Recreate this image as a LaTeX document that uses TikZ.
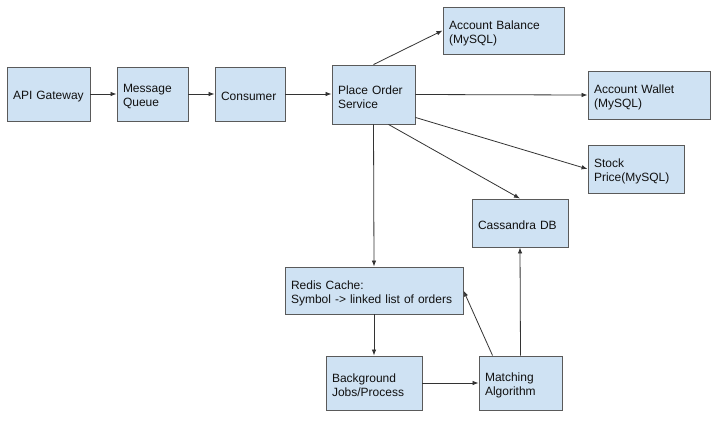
\documentclass[tikz,border=0pt]{standalone}
\usepackage{fontspec}
\setmainfont{Liberation Sans}
\usetikzlibrary{arrows.meta}
\definecolor{boxfill}{HTML}{CFE2F3}
\definecolor{boxline}{HTML}{5A5A5A}
\definecolor{arrowcol}{HTML}{333333}
\definecolor{txt}{HTML}{111111}
\tikzset{
  boxnode/.style={draw=boxline, line width=0.9pt, fill=boxfill, rectangle, inner sep=0pt},
  boxtext/.style={inner sep=0pt, align=left, text=txt, font=\fontsize{12}{14}\selectfont},
  conn/.style={draw=arrowcol, line width=0.8pt, -{Latex[length=6pt,width=4.5pt]}}
}
% \bx{name}{x1}{y1}{x2}{y2}{text}
\newcommand{\bx}[6]{%
  \pgfmathsetmacro{\bw}{#4-#2}%
  \pgfmathsetmacro{\bh}{#5-#3}%
  \pgfmathsetmacro{\tw}{#4-#2-12}%
  \node[boxnode, minimum width=\bw pt, minimum height=\bh pt] (#1) at ({(#2+#4)/2},{(#3+#5)/2}) {};%
  \node[boxtext, text width=\tw pt, yshift=-2.5pt] (#1-t) at (#1.center) {#6};%
}
\begin{document}
\begin{tikzpicture}[x=1pt,y=-1pt]
\fill[white] (0,0) rectangle (727,432);
\useasboundingbox (0,0) rectangle (727,432);
\bx{api}{7}{67}{90}{121}{API Gateway}
\bx{mq}{117}{67}{188}{121}{Message\\Queue}
\bx{con}{215}{67}{285}{121}{Consumer}
\bx{po}{332}{65}{415}{124}{Place Order\\Service}
\bx{ab}{443}{7}{564}{54}{Account Balance\\(MySQL)}
\bx{aw}{588}{71}{710}{119}{Account Wallet\\(MySQL)}
\bx{sp}{588}{145}{684}{193}{Stock\\Price(MySQL)}
\bx{cd}{472}{199}{568}{247}{Cassandra DB}
\bx{rc}{285}{267}{463}{314}{Redis Cache:\\Symbol -> linked list of orders}
\bx{bg}{326}{356}{422}{410}{Background\\Jobs/Process}
\bx{ma}{479}{356}{562}{410}{Matching\\Algorithm}

\draw[conn] (api.east) -- (mq.west);
\draw[conn] (mq.east) -- (con.west);
\draw[conn] (con.east) -- (po.west |- con.east);
\draw[conn] (po.north) -- (ab.west);
\draw[conn] (po.east) -- (aw.west);
\draw[conn] ([yshift=7pt]po.south east) -- (sp.west);
\draw[conn] ([xshift=15pt]po.south) -- (cd.north);
\draw[conn] (po.south) -- (rc.north);
\draw[conn] (rc.south) -- (bg.north);
\draw[conn] (bg.east) -- (ma.west);
\draw[conn] ([xshift=14pt]ma.north west) -- (rc.east);
\draw[conn] (ma.north) -- (cd.south);
\end{tikzpicture}
\end{document}
